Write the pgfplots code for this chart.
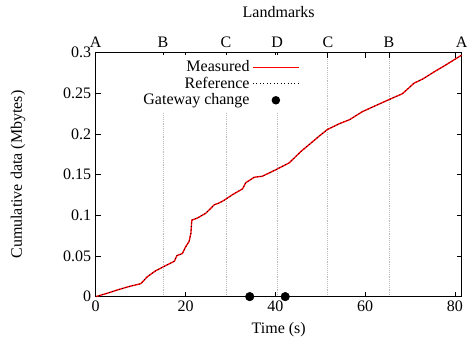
\documentclass[border=0pt]{standalone}
\usepackage{fontspec}
\setmainfont{Liberation Serif}
\usepackage{pgfplots}
\pgfplotsset{compat=1.18}
\newcommand{\ff}{\fontsize{12}{14}\selectfont}
\pgfplotsset{
  /pgf/number format/assume math mode=true,
  measleg/.style={legend image code/.code={\draw[draw=red, line width=1pt, solid] (6pt,0pt) -- (40.5pt,0pt);}},
  refleg/.style={legend image code/.code={\draw[draw=black, dotted, line width=0.6pt] (6pt,0pt) -- (40.5pt,0pt);}},
  gwleg/.style={legend image code/.code={\path[draw=none, fill=none] (6pt,0pt) -- (40.5pt,0pt); \fill[draw=none, fill=black] (23.25pt,0pt) circle (3.2pt);}},
}
\pgfplotstableread{
x y
0 0
2.5 0.004
5 0.0085
7.5 0.0125
10.06 0.0160
11.5 0.0245
13.4 0.032
14.9 0.0362
17.5 0.0435
18.1 0.0505
19.3 0.053
19.9 0.060
20.8 0.068
21.2 0.078
21.4 0.094
22.7 0.0968
24.5 0.1025
25.7 0.109
26.4 0.113
27.5 0.1152
28.6 0.1185
30.5 0.1255
32.7 0.1325
33.4 0.140
35.3 0.1468
37.1 0.148
40.1 0.156
43.1 0.1645
45.7 0.1785
47.5 0.1868
49.8 0.1975
51.6 0.2055
54.2 0.2125
56.5 0.2175
59.4 0.2275
65.0 0.2415
68.3 0.2495
70.9 0.2625
72.8 0.2675
75.4 0.2765
78 0.285
81.5 0.297
}\measured
\begin{document}
\begin{tikzpicture}
% landmarks axis (top) with grid
\begin{axis}[
  scale only axis, width=274.5pt, height=183pt,
  xmin=0, xmax=81.5, ymin=0, ymax=0.3,
  axis x line*=top, axis y line=none,
  xtick={0,15,29,40.4,51.7,65.3,81.5},
  xticklabels={A,B,C,D,C,B,A},
  tick align=inside, major tick length=3.75pt,
  tick style={line width=0.6pt, black},
  xmajorgrids, major grid style={gray!55, densely dotted, line width=0.6pt},
  tick label style={font=\ff},
  xlabel={Landmarks}, label style={font=\ff},
  xlabel style={at={(axis description cs:0.5,1.167)}, anchor=center},
  axis line style={draw=none},
]
\end{axis}
\begin{axis}[
  scale only axis, width=274.5pt, height=183pt,
  xmin=0, xmax=81.5, ymin=0, ymax=0.3,
  xtick={0,20,40,60,80},
  ytick={0,0.05,0.1,0.15,0.2,0.25,0.3},
  scaled y ticks=false,
  yticklabel style={/pgf/number format/fixed, /pgf/number format/precision=2},
  tick align=inside, major tick length=3.75pt,
  tick style={line width=0.6pt, black},
  axis line style={line width=0.8pt},
  tick label style={font=\ff, /pgf/number format/assume math mode=true},
  label style={font=\ff},
  xlabel={Time (s)}, ylabel={Cumulative data (Mbytes)},
  xlabel style={at={(axis description cs:0.5,-0.137)}, anchor=center},
  ylabel style={at={(axis description cs:-0.212,0.5)}, anchor=center},
  clip=false,
  legend plot pos=right,
  legend cell align=right,
  legend style={at={(rel axis cs:0.565,0.99)}, anchor=north east, draw=none, fill=white,
    font=\ff, row sep=-1.5pt, inner xsep=2pt, inner ysep=2pt},
]
\addplot[red, line width=1pt, measleg] table {\measured};
\addlegendentry{Measured}
\addplot[black, dotted, line width=0.6pt, refleg] table {\measured};
\addlegendentry{Reference}
\addplot[only marks, mark=*, mark size=3.2pt, black, gwleg]
  coordinates {(34.3,0) (42.2,0)};
\addlegendentry{Gateway change}
\end{axis}
\pgfresetboundingbox
\useasboundingbox (-71.8pt,-38.5pt) rectangle (278.5pt,222.5pt);
\end{tikzpicture}
\end{document}
